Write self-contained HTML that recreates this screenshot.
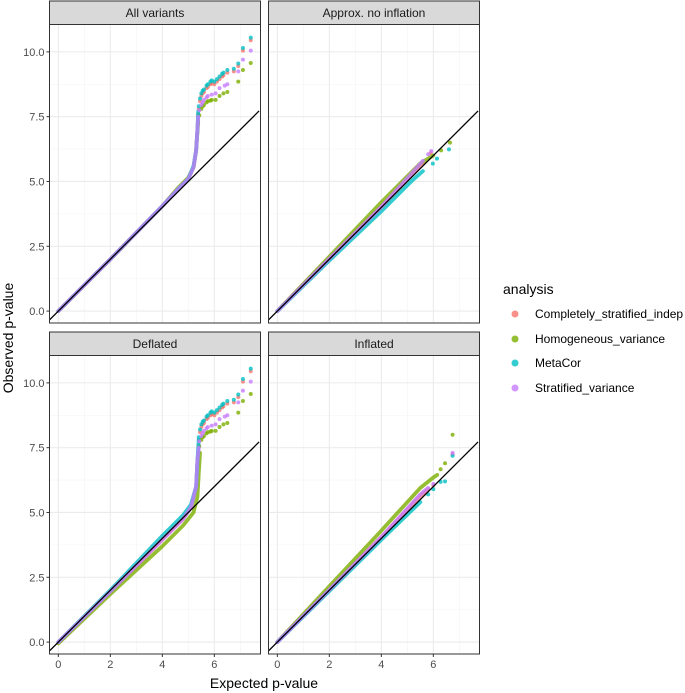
<!DOCTYPE html>
<html><head><meta charset="utf-8"><style>
body{margin:0;background:#fff;font-family:"Liberation Sans",sans-serif}
svg{display:block}
</style></head><body>
<svg id="c" width="685" height="693" viewBox="0 0 685 693"></svg>
<script>
const seriesNames = ["Completely_stratified_indep","Homogeneous_variance","MetaCor","Stratified_variance"];
const seriesColors = ["#F8766D","#7CAE00","#00BFC4","#C77CFF"];
const panelTitles = ["All variants","Approx. no inflation","Deflated","Inflated"];
const xTicks = [0,2,4,6];
const yTicks = [0,2.5,5,7.5,10];
const yTickLabels = ["0.0","2.5","5.0","7.5","10.0"];
const xTickLabels = ["0","2","4","6"];

// All variants
const allPinkBody = [[0,0],[2,2],[4,4.05],[4.6,4.7],[5.0,5.1],[5.2,5.55],[5.3,6.2],[5.35,7.0],[5.38,7.6]];
const allPinkDots = [[5.4,7.8],[5.45,8.1],[5.5,8.3],[5.55,8.4],[5.6,8.45],[5.7,8.6],[5.75,8.65],[5.85,8.75],[5.9,8.8],[6.0,8.75],[6.1,8.85],[6.2,8.95],[6.3,9.05],[6.35,9.1],[6.5,9.2],[6.75,9.25],[6.92,9.45],[7.1,10.05],[7.4,10.45]];
const allGreenBody = [[0,0],[2,2],[4,4.05],[4.6,4.75],[5.0,5.15],[5.2,5.55],[5.3,6.2],[5.35,6.9],[5.38,7.3]];
const allGreenDots = [[5.42,7.55],[5.5,7.8],[5.55,7.9],[5.6,7.95],[5.7,8.05],[5.75,8.1],[5.85,8.12],[5.9,8.15],[6.05,8.15],[6.2,8.3],[6.35,8.4],[6.5,8.45],[6.92,8.85],[7.1,9.3],[7.4,9.57]];
const allCyanBody = [[0,0],[2,2],[4,4.05],[4.6,4.7],[5.0,5.1],[5.2,5.6],[5.3,6.2],[5.35,7.0],[5.38,7.7]];
const allCyanDots = [[5.4,7.9],[5.45,8.2],[5.5,8.4],[5.55,8.5],[5.6,8.55],[5.7,8.7],[5.75,8.75],[5.85,8.85],[5.9,8.9],[6.0,8.85],[6.1,8.95],[6.2,9.05],[6.3,9.15],[6.35,9.2],[6.5,9.3],[6.75,9.35],[6.92,9.55],[7.1,10.15],[7.4,10.55]];
const allPurpleBody = [[0,0],[2,2],[4,4.05],[4.6,4.7],[5.0,5.1],[5.2,5.55],[5.3,6.2],[5.35,7.0],[5.38,7.5]];
const allPurpleDots = [[5.42,7.75],[5.5,7.95],[5.55,8.05],[5.6,8.15],[5.7,8.25],[5.75,8.3],[5.9,8.35],[6.05,8.4],[6.2,8.6],[6.4,8.7],[6.5,8.75],[6.92,9.25],[7.1,9.7],[7.4,10.05]];

// Approx. no inflation
const noPinkBody = [[0,0],[2,2.02],[4,4.02],[5.6,5.7]];
const noPinkDots = [[5.9,6.1]];
const noGreenBody = [[0,0],[2,2.1],[4,4.2],[5.5,5.7],[6.0,6.0]];
const noGreenDots = [[6.3,6.2],[6.64,6.5]];
const noCyanBody = [[0,0],[2,1.95],[4,3.85],[5.2,5.05],[5.6,5.4]];
const noCyanDots = [[5.98,5.69],[6.14,5.88],[6.6,6.24]];
const noPurpleBody = [[0,0],[2,2.02],[4,4.02],[5.6,5.8]];
const noPurpleDots = [[5.8,6.05],[5.92,6.17]];

// Deflated
const defPinkBody = [[0,0],[2,1.95],[4,3.95],[4.8,4.75],[5.1,5.2],[5.3,6.0],[5.35,7.0],[5.4,7.6]];
const defGreenBody = [[0,-0.05],[2,1.85],[4,3.7],[4.8,4.5],[5.2,5.0],[5.35,5.6],[5.4,6.5],[5.45,7.3]];
const defCyanBody = [[0,0],[2,2],[4,4.1],[4.8,4.9],[5.1,5.3],[5.3,6.0],[5.35,7.0],[5.4,7.8]];
const defPurpleBody = [[0,0],[2,1.95],[4,3.95],[4.8,4.75],[5.1,5.2],[5.3,6.0],[5.35,7.0],[5.4,7.5]];

// Inflated
const infPinkBody = [[0,0],[2,2.02],[4,4.05],[5.5,5.65],[5.8,5.9]];
const infPinkDots = [[6.0,6.05],[6.74,7.25]];
const infGreenBody = [[0,0],[2,2.15],[4,4.3],[5.0,5.4],[5.5,5.95],[6.0,6.35],[6.15,6.45]];
const infGreenDots = [[6.28,6.67],[6.45,6.9],[6.74,8.0]];
const infCyanBody = [[0,0],[2,1.97],[4,3.95],[5.5,5.4]];
const infCyanDots = [[5.8,5.7],[6.0,5.9],[6.28,6.18],[6.45,6.2],[6.74,7.19]];
const infPurpleBody = [[0,0],[2,2.02],[4,4.05],[5.5,5.7],[5.8,5.95]];
const infPurpleDots = [[6.0,6.1],[6.74,7.3]];

const panelData = [
  [[allPinkBody,allPinkDots],[allGreenBody,allGreenDots],[allCyanBody,allCyanDots],[allPurpleBody,allPurpleDots]],
  [[noPinkBody,noPinkDots],[noGreenBody,noGreenDots],[noCyanBody,noCyanDots],[noPurpleBody,noPurpleDots]],
  [[defPinkBody,allPinkDots],[defGreenBody,allGreenDots],[defCyanBody,allCyanDots],[defPurpleBody,allPurpleDots]],
  [[infPinkBody,infPinkDots],[infGreenBody,infGreenDots],[infCyanBody,infCyanDots],[infPurpleBody,infPurpleDots]]
];

const NS="http://www.w3.org/2000/svg";
const svg=document.getElementById('c');
function mk(tag,attrs,parent){const e=document.createElementNS(NS,tag);for(const k in attrs)e.setAttribute(k,attrs[k]);(parent||svg).appendChild(e);return e;}

const X0=[49.5,268.5], XW=211, YTOP=[24.5,355.5], YH=298.5;
const xMin=-0.34, xMax=7.72, yMin=-0.46, yMax=11.04;
const XPX=26, YPX=25.92;

panelData.forEach((pd,pi)=>{
  const col=pi%2,row=Math.floor(pi/2);
  const px=X0[col], py=YTOP[row];
  const xs=v=>px+(v-xMin)*XPX;
  const ys=v=>py+YH-(v-yMin)*YPX;
  const g=mk('g',{});
  
  
  const st=mk('rect',{x:px,y:py-23.5,width:XW,height:23.5,fill:'#D9D9D9',stroke:'#333',"stroke-width":1},g);
  
  
  const stt=mk('text',{x:px+XW/2,y:py-7.5,"text-anchor":"middle","font-size":"12","fill":"#1A1A1A"},g);
  stt.textContent=panelTitles[pi];
  
  
  mk('rect',{x:px,y:py,width:XW,height:YH,fill:'#fff'},g);
  const clipId='cl'+pi;
  const cp=mk('clipPath',{id:clipId},g);
  mk('rect',{x:px,y:py,width:XW,height:YH},cp);
  for(let v=1;v<=7;v+=2) mk('line',{x1:xs(v),x2:xs(v),y1:py,y2:py+YH,stroke:'#F5F5F5',"stroke-width":0.6},g);
  for(let v=1.25;v<=11;v+=2.5) mk('line',{x1:px,x2:px+XW,y1:ys(v),y2:ys(v),stroke:'#F5F5F5',"stroke-width":0.6},g);
  xTicks.forEach(v=>mk('line',{x1:xs(v),x2:xs(v),y1:py,y2:py+YH,stroke:'#EBEBEB',"stroke-width":1.1},g));
  yTicks.forEach(v=>mk('line',{x1:px,x2:px+XW,y1:ys(v),y2:ys(v),stroke:'#EBEBEB',"stroke-width":1.1},g));
  const dg=mk('g',{"clip-path":`url(#${clipId})`},g);
  pd.forEach((s,si)=>{
    const [body,dots]=s;
    const pl=mk('polyline',{points:body.map(p=>xs(p[0])+','+ys(p[1])).join(' '),fill:'none',stroke:seriesColors[si],"stroke-width":3.8,"stroke-linecap":"round","stroke-linejoin":"round","stroke-opacity":0.8},dg);
    
    
    dots.forEach(p=>{
      const c=mk('circle',{cx:xs(p[0]),cy:ys(p[1]),r:2,fill:seriesColors[si],"fill-opacity":0.8},dg);
      
      
    });
  });
  const dl=mk('line',{x1:xs(xMin),y1:ys(xMin),x2:xs(xMax),y2:ys(xMax),stroke:'#000',"stroke-width":1.3},dg);
  
  
  mk('rect',{x:px,y:py,width:XW,height:YH,fill:'none',stroke:'#333',"stroke-width":1},g);
  if(col===0){
    yTicks.forEach((v,i)=>{
      mk('line',{x1:px-3,x2:px,y1:ys(v),y2:ys(v),stroke:'#333'},g);
      const t=mk('text',{x:px-5,y:ys(v)+4,"text-anchor":"end","font-size":"11",fill:'#4D4D4D'},g);
      t.textContent=yTickLabels[i];
      
      
    });
  }
  if(row===1){
    xTicks.forEach((v,i)=>{
      mk('line',{x1:xs(v),x2:xs(v),y1:py+YH,y2:py+YH+3,stroke:'#333'},g);
      const t=mk('text',{x:xs(v),y:py+YH+14,"text-anchor":"middle","font-size":"11",fill:'#4D4D4D'},g);
      t.textContent=xTickLabels[i];
      
      
    });
  }
});
</script>
<svg style="position:absolute;left:0;top:0" width="685" height="693">
  <text x="264" y="688" text-anchor="middle" font-size="14" fill="#000" font-family="Liberation Sans">Expected p-value</text>
  <text transform="translate(13,338) rotate(-90)" text-anchor="middle" font-size="14" fill="#000" font-family="Liberation Sans">Observed p-value</text>
  <g font-family="Liberation Sans">
    <text x="503" y="294" font-size="14" fill="#000">analysis</text>
    <g><circle cx="515" cy="314" r="3.5" fill="#F8766D" fill-opacity="0.8"/><text x="535" y="318" font-size="12" fill="#000">Completely_stratified_indep</text></g>
    <g><circle cx="515" cy="339" r="3.5" fill="#7CAE00" fill-opacity="0.8"/><text x="535" y="343" font-size="12" fill="#000">Homogeneous_variance</text></g>
    <g><circle cx="515" cy="363" r="3.5" fill="#00BFC4" fill-opacity="0.8"/><text x="535" y="367" font-size="12" fill="#000">MetaCor</text></g>
    <g><circle cx="515" cy="388" r="3.5" fill="#C77CFF" fill-opacity="0.8"/><text x="535" y="392" font-size="12" fill="#000">Stratified_variance</text></g>
  </g>
</svg>
</body></html>
